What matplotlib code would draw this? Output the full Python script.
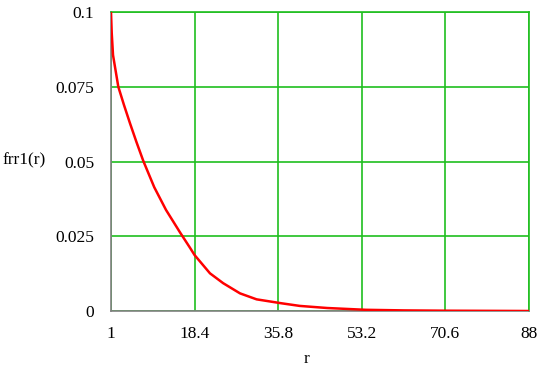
import matplotlib
matplotlib.use("Agg")
import matplotlib.pyplot as plt

r_vals = [1, 1.15, 1.42, 2.52, 3.7, 4.95, 6.3, 7.72, 10, 12.45, 15.36, 17.5,
          18.4, 21.6, 24.35, 27.85, 31.3, 36.4, 40.3, 46, 54, 62, 70.6, 80, 88]
f_vals = [0.1, 0.093, 0.0856, 0.075, 0.0689, 0.0628, 0.0565, 0.0502, 0.0414,
          0.0338, 0.0263, 0.0210, 0.0187, 0.0126, 0.0093, 0.0059, 0.0039,
          0.0026, 0.0017, 0.0010, 0.0004, 0.0002, 0.0001, 0.00005, 0.0]
x_ticks = [1, 18.4, 35.8, 53.2, 70.6, 88]
x_tick_labels = ["1", "18.4", "35.8", "53.2", "70.6", "88"]
y_ticks = [0, 0.025, 0.05, 0.075, 0.1]
y_tick_labels = ["0", "0.025", "0.05", "0.075", "0.1"]

plt.rcParams['font.family'] = ['Liberation Serif', 'DejaVu Serif']

fig = plt.figure(figsize=(5.5, 3.71), dpi=100)
ax = fig.add_axes([111/550, 60/371, 418/550, 299/371])
green = '#1fbf1f'
ax.set_xlim(1, 88)
ax.set_ylim(0, 0.1)
ax.set_xticks(x_ticks)
ax.set_xticklabels(x_tick_labels)
ax.set_yticks(y_ticks)
ax.set_yticklabels(y_tick_labels)
ax.grid(True, color=green, linewidth=1.2)
ax.set_axisbelow(True)
ax.tick_params(length=0, labelsize=12.5)
ax.tick_params(axis='x', pad=11)
ax.tick_params(axis='y', pad=12)
for s in ['top', 'right']:
    ax.spines[s].set_color(green)
    ax.spines[s].set_linewidth(1.2)
for s in ['left', 'bottom']:
    ax.spines[s].set_color('#808080')
    ax.spines[s].set_linewidth(1.2)
ax.plot(r_vals, f_vals, color='red', linewidth=1.8, zorder=3)

fig.text(24/550, 1 - 160/371, "frr1(r)", fontsize=12.5, ha='center', va='center')
fig.text(307/550, 1 - 363/371, "r", fontsize=12.5, ha='center', va='baseline')

fig.savefig("out.png", dpi=100)
